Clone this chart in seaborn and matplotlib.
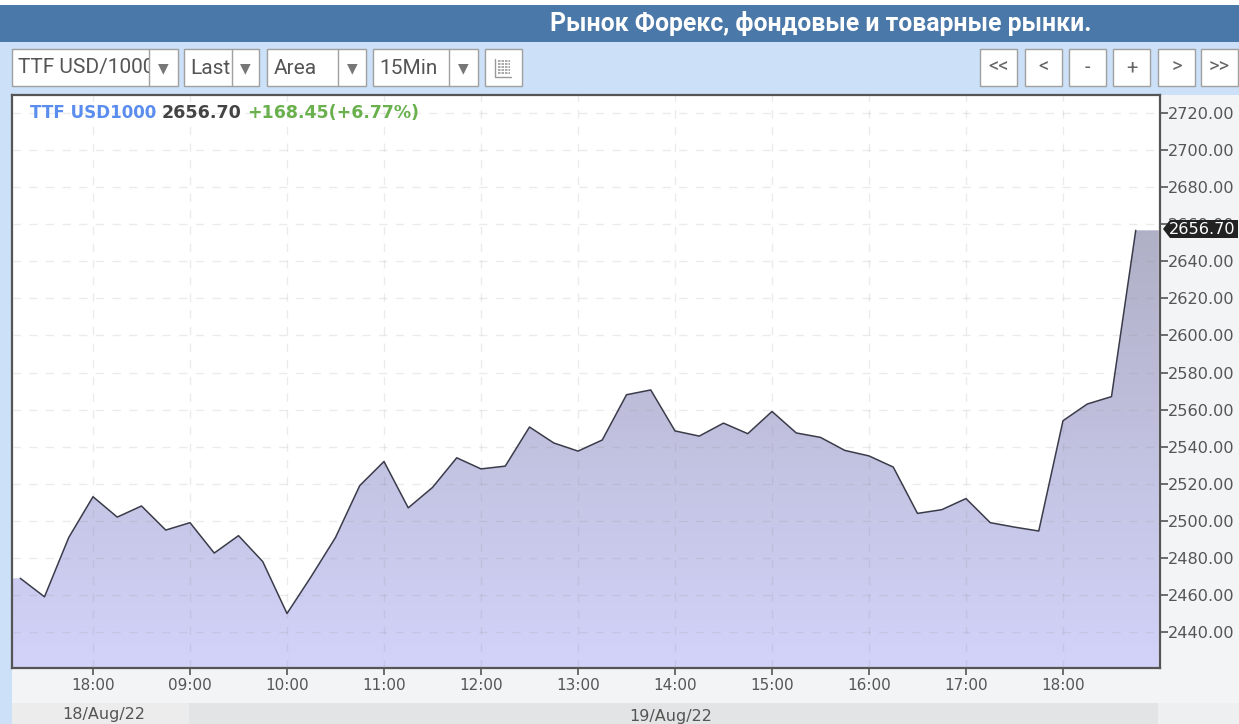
import numpy as np
import pandas as pd
import seaborn as sns
import matplotlib.pyplot as plt
from matplotlib.colors import LinearSegmentedColormap
from matplotlib.patches import Rectangle, Polygon

# price, one point every 15 min
prices = [2469, 2459, 2491, 2513, 2502, 2508, 2495, 2499, 2482.6, 2492, 2478, 2450,
          2470, 2491, 2519, 2532, 2507, 2518, 2534, 2528, 2529.5, 2550.6, 2542, 2537.6,
          2543.6, 2568, 2570.6, 2548.5, 2545.7, 2552.7, 2547, 2559, 2547.4, 2545,
          2538, 2535, 2529, 2504, 2506, 2512, 2499, 2496.6, 2494.5, 2554, 2563, 2567,
          2656.7]
time_labels = ['18:00', '09:00', '10:00', '11:00', '12:00', '13:00', '14:00', '15:00',
               '16:00', '17:00', '18:00']
time_index = [3, 7, 11, 15, 19, 23, 27, 31, 35, 39, 43]
price_ticks = [2440, 2460, 2480, 2500, 2520, 2540, 2560, 2580, 2600, 2620, 2640,
               2660, 2680, 2700, 2720]
title_text = 'Рынок Форекс, фондовые и товарные рынки.'
symbol_text = 'TTF USD1000'
last_text = '2656.70'
change_text = '+168.45(+6.77%)'

W, H = 1239, 724
sns.set_style('white')
plt.rcParams['font.family'] = ['DejaVu Sans']

df = pd.DataFrame({'idx': np.arange(len(prices)), 'price': prices})

fig = plt.figure(figsize=(W / 100, H / 100), dpi=100, facecolor='#cce0f8')

# whole figure overlay in pixels for the page furniture
bg = fig.add_axes([0, 0, 1, 1], zorder=0)
bg.set_xlim(0, W)
bg.set_ylim(H, 0)
bg.axis('off')
bg.add_patch(Rectangle((0, 5), W, 37, fc='#4a78a8', ec='none'))
bg.add_patch(Rectangle((0, 0), W, 5, fc='white', ec='none'))
bg.add_patch(Rectangle((12, 95), W - 12, H - 95, fc='#f3f4f6', ec='none'))
bg.add_patch(Rectangle((12, 703), 177, 21, fc='#ececec', ec='none'))
bg.add_patch(Rectangle((189, 703), 969, 21, fc='#e3e4e5', ec='none'))
bg.add_patch(Rectangle((1158, 703), W - 1158, 21, fc='#eeeff0', ec='none'))
bg.text(820.5, 23, title_text, family='Roboto', weight='bold', fontsize=17.8, color='white',
        ha='center', va='center')
bg.text(104, 715, '18/Aug/22', fontsize=11.5, color='#555555', ha='center', va='center')
bg.text(671, 717, '19/Aug/22', fontsize=11.5, color='#555555', ha='center', va='center')

# dropdowns
for x0, x1, div, label in [(12, 178, 149, 'TTF USD/1000'), (184, 259, 232, 'Last'),
                           (267, 366, 338, 'Area'), (373, 478, 449, '15Min')]:
    bg.add_patch(Rectangle((x0, 49), x1 - x0, 37, fc='white', ec='#a0a0a0', lw=1))
    bg.plot([div, div], [49, 86], color='#a0a0a0', lw=1)
    t = bg.text(x0 + 6.5, 68, label, family='Roboto', fontsize=15, color='#555555', va='center')
    # long names get cut at the arrow part
    t.set_clip_on(True)
    t.set_clip_path(Rectangle((x0, 49), div - x0, 37, transform=bg.transData))
    bg.text((div + x1) / 2, 68, '▼', fontsize=10, color='#777777', ha='center', va='center')

# table icon
bg.add_patch(Rectangle((485, 49), 37, 37, fc='white', ec='#a0a0a0', lw=1))
bg.plot([495, 495, 511], [59, 77, 77], color='#999999', lw=1)
for yy in [61, 64, 67, 70, 73]:
    bg.plot([498, 510], [yy, yy], color='#999999', lw=1.2, ls=(0, (1.5, 0.6)))

# zoom / pan buttons
for x0, label in [(980, '<<'), (1025, '<'), (1069, '-'), (1113, '+'), (1158, '>'), (1201, '>>')]:
    bg.add_patch(Rectangle((x0, 49), 37, 37, fc='white', ec='#a0a0a0', lw=1))
    bg.text(x0 + 18.5, 67.5, label, family='Roboto', fontsize=14.5, color='#666666',
            ha='center', va='center')

# chart axes, x is the 15 min point number
left, right, top, bottom = 12, 1160, 95, 668
ax = fig.add_axes([left / W, 1 - bottom / H, (right - left) / W, (bottom - top) / H], zorder=1)
ax.set_xlim(-0.34, 47.0)
ax.set_ylim(2420.6, 2729.7)
ax.set_facecolor('white')

# area runs flat out to both edges of the frame, the line does not
x_area = np.concatenate([[-0.34], df['idx'], [46.95]])
y_area = np.concatenate([[prices[0]], df['price'], [prices[-1]]])
area = ax.fill_between(x_area, y_area, 2420.6, color='none', zorder=1)
cmap = LinearSegmentedColormap.from_list('area', ['#d3d3fa', '#aeaec4'])
grad = np.linspace(0, 1, 256).reshape(-1, 1)
im = ax.imshow(grad, origin='lower', aspect='auto', cmap=cmap, zorder=1,
               extent=[-0.34, 47.0, 2420.6, 2668])
im.set_clip_path(area.get_paths()[0], transform=ax.transData)

ax.set_xlim(-0.34, 47.0)
ax.set_ylim(2420.6, 2729.7)

sns.lineplot(data=df, x='idx', y='price', ax=ax, color='#3a3c4a', lw=1.1, zorder=3)

ax.set_xlabel('')
ax.set_ylabel('')
ax.set_xticks(time_index)
ax.set_xticklabels(time_labels)
ax.set_yticks(price_ticks)
ax.set_yticklabels([f'{p:.2f}' for p in price_ticks])
ax.yaxis.tick_right()
ax.grid(True, color='#888888', alpha=0.16, lw=1, ls=(0, (6, 6)), zorder=2)
ax.set_axisbelow(False)
ax.tick_params(axis='x', bottom=True, length=5, width=1.2, color='#555555',
               labelsize=11, labelcolor='#555555', pad=2)
ax.tick_params(axis='y', right=True, length=6, width=1.2, color='#555555',
               labelsize=11.6, labelcolor='#555555', pad=0)
for s in ax.spines.values():
    s.set_color('#555555')
    s.set_linewidth(1.6)
    s.set_visible(True)

# top layer: header readout and last price tag
fg = fig.add_axes([0, 0, 1, 1], zorder=2)
fg.set_xlim(0, W)
fg.set_ylim(H, 0)
fg.axis('off')
fg.patch.set_alpha(0)
fg.text(30, 113.5, symbol_text, fontsize=12.1, weight='bold', color='#5b8def', va='center')
fg.text(162, 113.5, last_text, fontsize=12.6, weight='bold', color='#444444', va='center')
fg.text(247, 113.5, change_text, fontsize=12.5, weight='bold', color='#6ab04c', va='center')
fg.add_patch(Polygon([(1163, 229), (1170, 220), (1238, 220), (1238, 238), (1170, 238)],
                     fc='#222222', ec='none'))
fg.text(1202, 229.5, last_text, fontsize=11.6, color='white', ha='center', va='center')

fig.savefig('out.png', dpi=100, facecolor=fig.get_facecolor())
